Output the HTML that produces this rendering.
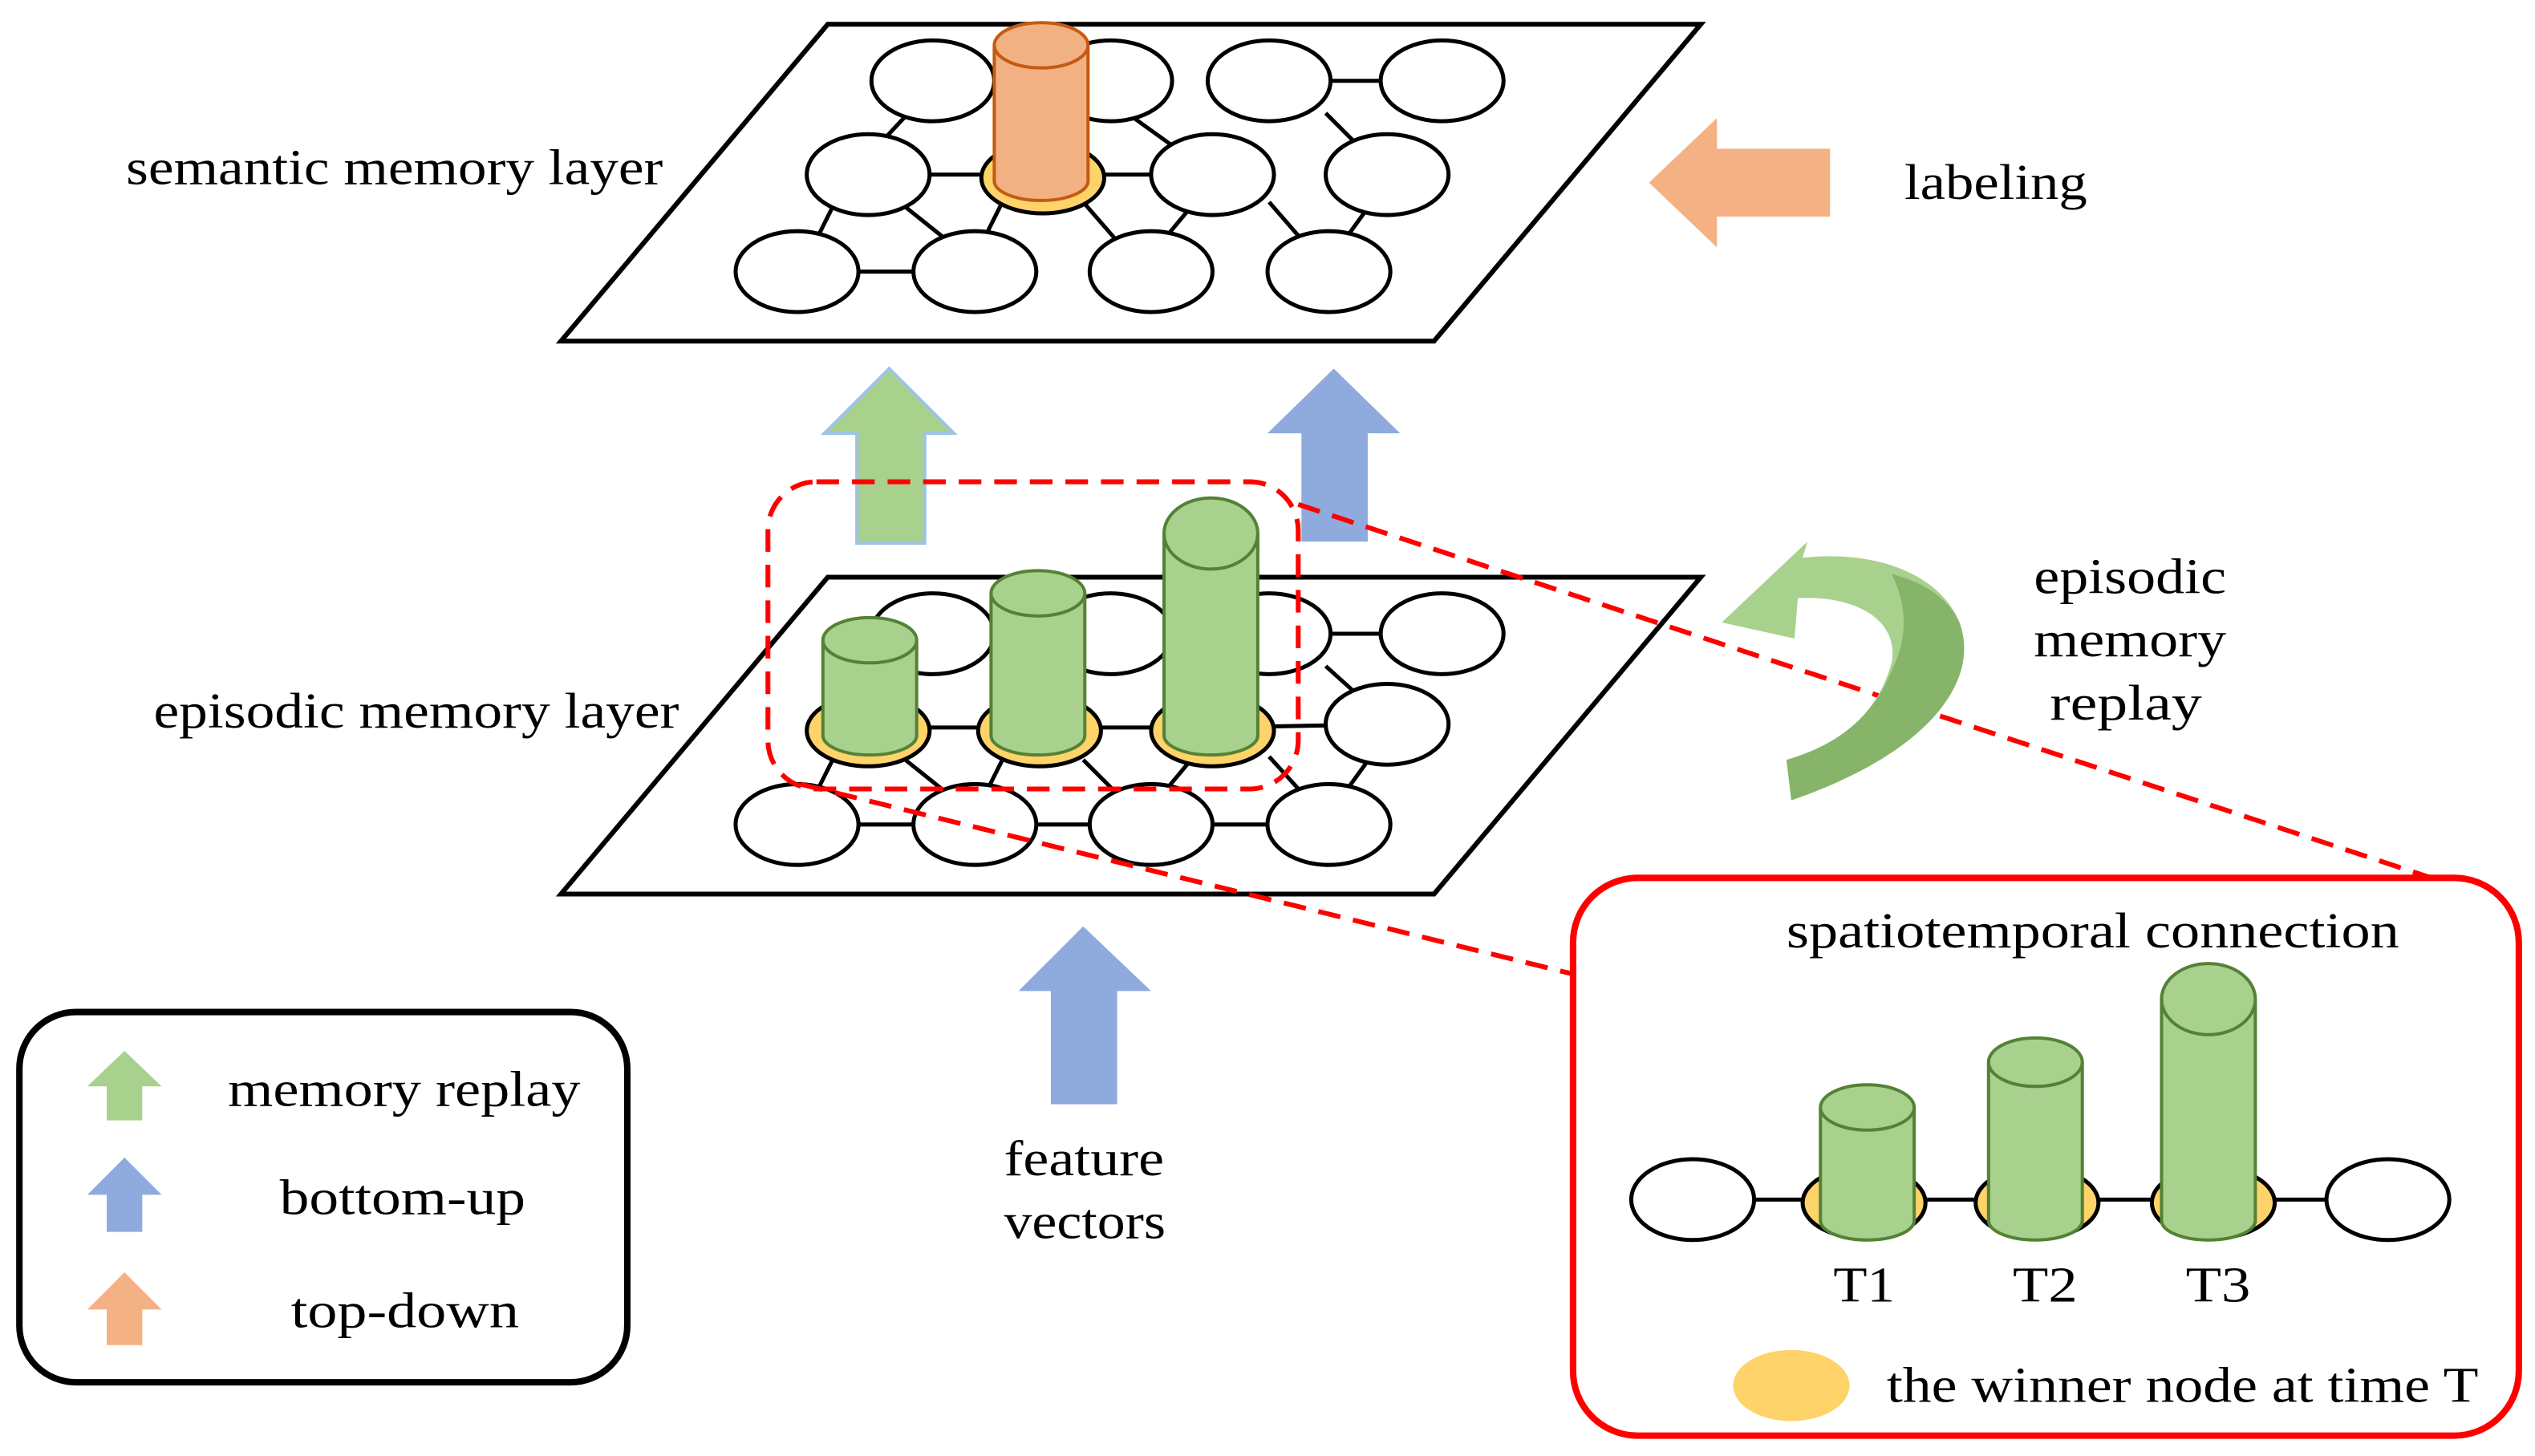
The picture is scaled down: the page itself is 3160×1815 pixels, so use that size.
<!DOCTYPE html>
<html><head><meta charset="utf-8"><style>html,body{margin:0;padding:0;background:#fff}svg{display:block}</style></head>
<body>
<svg width="3160" height="1815" viewBox="0 0 1568 900.6" xmlns="http://www.w3.org/2000/svg" font-family="Liberation Serif, serif" font-size="31">
<rect width="1568" height="901" fill="#fff"/>
<polygon points="347,211 512,15 1052,15 887,211" fill="#fff" stroke="#000" stroke-width="3"/>
<g stroke="#000" stroke-width="2.5">
<line x1="577" y1="50" x2="687" y2="50"/><line x1="785" y1="50" x2="892" y2="50"/>
<line x1="560" y1="72" x2="545" y2="88"/><line x1="700" y1="72" x2="725" y2="90"/><line x1="820" y1="70" x2="840" y2="90"/>
<line x1="537" y1="108" x2="645" y2="108"/><line x1="645" y1="108" x2="750" y2="108"/>
<line x1="515" y1="128" x2="505" y2="148"/><line x1="560" y1="128" x2="585" y2="148"/><line x1="735" y1="130" x2="720" y2="148"/><line x1="785" y1="125" x2="805" y2="148"/><line x1="845" y1="130" x2="832" y2="148"/>
<line x1="493" y1="168" x2="603" y2="168"/><line x1="620" y1="125" x2="610" y2="145"/><line x1="670" y1="125" x2="690" y2="148"/>
</g>
<g fill="#fff" stroke="#000" stroke-width="2.5">
<ellipse cx="577" cy="50" rx="38" ry="25"/><ellipse cx="687" cy="50" rx="38" ry="25"/><ellipse cx="785" cy="50" rx="38" ry="25"/><ellipse cx="892" cy="50" rx="38" ry="25"/>
<ellipse cx="537" cy="108" rx="38" ry="25"/><ellipse cx="750" cy="108" rx="38" ry="25"/><ellipse cx="858" cy="108" rx="38" ry="25"/>
<ellipse cx="493" cy="168" rx="38" ry="25"/><ellipse cx="603" cy="168" rx="38" ry="25"/><ellipse cx="712" cy="168" rx="38" ry="25"/><ellipse cx="822" cy="168" rx="38" ry="25"/>
</g>
<ellipse cx="645" cy="110" rx="38" ry="22" fill="#fdd36a" stroke="#000" stroke-width="2.5"/>
<path d="M615,28 V112 A29,12 0 0 0 673,112 V28" fill="#f2b183" stroke="#c55a11" stroke-width="2"/>
<ellipse cx="644" cy="28" rx="29" ry="14" fill="#f2b183" stroke="#c55a11" stroke-width="2"/>
<polygon points="1020,113 1062,73 1062,92 1132,92 1132,134 1062,134 1062,153" fill="#f4b183"/>
<polygon points="550,228 590,268 572,268 572,336 530,336 530,268 510,268" fill="#a9d18e" stroke="#9dc3e6" stroke-width="2"/>
<polygon points="825,228 866,268 846,268 846,335 805,335 805,268 784,268" fill="#8faadc"/>
<polygon points="347,553 512,357 1052,357 887,553" fill="#fff" stroke="#000" stroke-width="3"/>
<g stroke="#000" stroke-width="2.5">
<line x1="577" y1="392" x2="687" y2="392"/><line x1="785" y1="392" x2="892" y2="392"/>
<line x1="537" y1="450" x2="750" y2="450"/><line x1="750" y1="450" x2="858" y2="448"/>
<line x1="820" y1="412" x2="840" y2="430"/>
<line x1="515" y1="470" x2="505" y2="490"/><line x1="560" y1="470" x2="585" y2="490"/><line x1="620" y1="470" x2="610" y2="490"/><line x1="670" y1="470" x2="690" y2="490"/><line x1="735" y1="472" x2="720" y2="490"/><line x1="785" y1="468" x2="805" y2="490"/><line x1="845" y1="472" x2="832" y2="490"/>
<line x1="493" y1="510" x2="822" y2="510"/>
</g>
<g fill="#fff" stroke="#000" stroke-width="2.5">
<ellipse cx="577" cy="392" rx="38" ry="25"/><ellipse cx="687" cy="392" rx="38" ry="25"/><ellipse cx="785" cy="392" rx="38" ry="25"/><ellipse cx="892" cy="392" rx="38" ry="25"/>
<ellipse cx="858" cy="448" rx="38" ry="25"/>
<ellipse cx="493" cy="510" rx="38" ry="25"/><ellipse cx="603" cy="510" rx="38" ry="25"/><ellipse cx="712" cy="510" rx="38" ry="25"/><ellipse cx="822" cy="510" rx="38" ry="25"/>
</g>
<g stroke="#000" stroke-width="2.5" fill="#fdd36a">
<ellipse cx="537" cy="452" rx="38" ry="22"/><ellipse cx="643" cy="452" rx="38" ry="22"/><ellipse cx="750" cy="452" rx="38" ry="22"/>
</g>
<g fill="#a9d18e" stroke="#548235" stroke-width="2">
<path d="M509,396 V455 A29,12 0 0 0 567,455 V396"/><ellipse cx="538" cy="396" rx="29" ry="14"/>
<path d="M613,367 V455 A29,12 0 0 0 671,455 V367"/><ellipse cx="642" cy="367" rx="29" ry="14"/>
<path d="M720,330 V455 A29,12 0 0 0 778,455 V330"/><ellipse cx="749" cy="330" rx="29" ry="22"/>
</g>
<g stroke="#ff0000" stroke-width="3" fill="none" stroke-dasharray="14,8">
<rect x="475" y="298" width="328" height="190" rx="30"/>
<line x1="803" y1="312" x2="1510" y2="545"/>
<line x1="495" y1="485" x2="975" y2="603"/>
</g>
<path d="M1108,495 C1195,465 1225,420 1212,385 C1200,355 1160,340 1115,345 L1118,335 L1065,385 L1110,395 L1112,370 C1150,368 1175,385 1170,410 C1162,440 1140,460 1105,470 Z" fill="#a9d18e"/>
<path d="M1108,495 C1195,465 1225,420 1212,385 C1205,370 1190,360 1170,355 C1180,375 1180,395 1170,415 C1160,440 1140,460 1105,470 Z" fill="#70a050" opacity="0.6"/>
<polygon points="670,573 712,613 691,613 691,683 650,683 650,613 630,613" fill="#8faadc"/>
<rect x="973" y="543" width="585" height="345" rx="40" fill="#fff" stroke="#ff0000" stroke-width="4"/>
<line x1="1047" y1="742" x2="1477" y2="742" stroke="#000" stroke-width="2.5"/>
<g stroke="#000" stroke-width="2.5"><ellipse cx="1047" cy="742" rx="38" ry="25" fill="#fff"/><ellipse cx="1477" cy="742" rx="38" ry="25" fill="#fff"/>
<ellipse cx="1153" cy="744" rx="38" ry="22" fill="#fdd36a"/><ellipse cx="1260" cy="744" rx="38" ry="22" fill="#fdd36a"/><ellipse cx="1369" cy="744" rx="38" ry="22" fill="#fdd36a"/></g>
<g fill="#a9d18e" stroke="#548235" stroke-width="2">
<path d="M1126,685 V755 A29,12 0 0 0 1184,755 V685"/><ellipse cx="1155" cy="685" rx="29" ry="14"/>
<path d="M1230,657 V755 A29,12 0 0 0 1288,755 V657"/><ellipse cx="1259" cy="657" rx="29" ry="15"/>
<path d="M1337,618 V755 A29,12 0 0 0 1395,755 V618"/><ellipse cx="1366" cy="618" rx="29" ry="22"/>
</g>
<ellipse cx="1108" cy="857" rx="36" ry="22" fill="#fdd36a"/>
<rect x="12" y="626" width="376" height="229" rx="35" fill="#fff" stroke="#000" stroke-width="4"/>
<polygon points="77,650 100,672 88,672 88,693 66,693 66,672 54,672" fill="#a9d18e"/>
<polygon points="77,716 100,739 88,739 88,762 66,762 66,739 54,739" fill="#8faadc"/>
<polygon points="77,787 100,810 88,810 88,832 66,832 66,810 54,810" fill="#f4b183"/>
<g fill="#000" lengthAdjust="spacingAndGlyphs">
<text x="78" y="114" textLength="332" lengthAdjust="spacingAndGlyphs">semantic memory layer</text>
<text x="95" y="450" textLength="325" lengthAdjust="spacingAndGlyphs">episodic memory layer</text>
<text x="1178" y="123" textLength="113" lengthAdjust="spacingAndGlyphs">labeling</text>
<text x="1258" y="367" textLength="119" lengthAdjust="spacingAndGlyphs">episodic</text>
<text x="1258" y="406" textLength="119" lengthAdjust="spacingAndGlyphs">memory</text>
<text x="1268" y="445" textLength="94" lengthAdjust="spacingAndGlyphs">replay</text>
<text x="621" y="727" textLength="99" lengthAdjust="spacingAndGlyphs">feature</text>
<text x="621" y="766" textLength="100" lengthAdjust="spacingAndGlyphs">vectors</text>
<text x="1105" y="586" textLength="379" lengthAdjust="spacingAndGlyphs">spatiotemporal connection</text>
<text x="1134" y="805" textLength="38" lengthAdjust="spacingAndGlyphs">T1</text>
<text x="1245" y="805" textLength="40" lengthAdjust="spacingAndGlyphs">T2</text>
<text x="1352" y="805" textLength="40" lengthAdjust="spacingAndGlyphs">T3</text>
<text x="141" y="684" textLength="218" lengthAdjust="spacingAndGlyphs">memory replay</text>
<text x="173" y="751" textLength="152" lengthAdjust="spacingAndGlyphs">bottom-up</text>
<text x="180" y="821" textLength="141" lengthAdjust="spacingAndGlyphs">top-down</text>
<text x="1167" y="867" textLength="366" lengthAdjust="spacingAndGlyphs">the winner node at time T</text>
</g>
</svg>
</body></html>
